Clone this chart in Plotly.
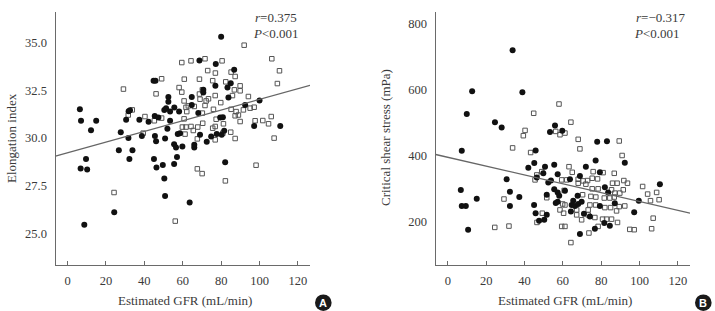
import plotly.graph_objects as go

# ---------------- Panel A data: Estimated GFR vs Elongation index ----------------
a_filled_gfr = [6.4, 7.0, 12.2, 14.9, 9.6, 6.8, 10.2, 8.7, 24.3, 26.7, 27.7, 30.5, 31.8, 32.5, 31.7,
                32.2, 33.8, 37.4, 38.7, 42.2, 44.8, 45.8, 45.4, 47.3, 45.5, 46.1, 45.0, 46.3, 49.6, 50.4,
                50.8, 50.8, 52.0, 52.5, 52.5, 51.3, 50.4, 53.4, 55.6, 58.1, 53.4, 55.5, 56.5, 57.4, 58.6,
                59.8, 57.0, 55.5, 63.6, 64.7, 64.7, 68.1, 66.0, 66.0, 69.0, 72.5, 68.7, 80.0, 77.2, 86.8,
                85.0, 83.3, 77.0, 70.7, 70.7, 83.8, 92.5, 100.0, 79.5, 80.9, 97.2, 110.8, 81.6, 77.7, 74.8,
                82.1, 80.3]
a_filled_ei = [31.5, 30.9, 30.4, 30.9, 28.9, 28.4, 28.35, 25.45, 26.1, 29.35, 30.3, 30.95, 31.4, 31.45, 30.0,
               28.9, 29.35, 30.95, 30.1, 30.85, 33.0, 33.0, 31.15, 31.07, 30.1, 29.83, 28.9, 28.45, 28.58, 27.88,
               26.96, 29.97, 30.48, 32.14, 31.9, 31.56, 31.47, 31.38, 31.6, 31.38, 30.9, 29.67, 29.5, 30.2, 30.25,
               29.55, 29.0, 28.64, 26.61, 32.14, 31.73, 31.3, 29.64, 29.5, 30.16, 29.8, 34.06, 35.3, 33.87, 33.57,
               32.87, 32.64, 32.73, 32.52, 32.38, 32.12, 31.73, 31.96, 31.07, 31.09, 30.63, 30.63, 30.37, 30.2, 30.07,
               28.73, 30.16]

a_open_gfr = [24.2, 56.1, 67.6, 70.1, 82.2, 98.2, 59.5, 64.3, 71.6, 73.0, 49.0, 60.8, 68.7, 29.1, 46.1,
              58.1, 59.5, 60.7, 70.2, 68.7, 72.2, 69.0, 62.9, 66.0, 62.1, 71.6, 33.7, 31.6, 40.3, 45.2,
              49.0, 60.7, 70.2, 59.8, 61.7, 61.2, 67.8, 65.5, 70.4, 67.6, 39.4, 92.0, 106.4, 110.4, 109.3,
              80.5, 77.0, 85.2, 87.3, 75.6, 82.4, 89.9, 86.9, 89.9, 76.9, 85.9, 79.8, 94.2, 76.0, 85.2,
              87.8, 91.6, 95.1, 97.2, 87.3, 89.0, 89.9, 97.7, 101.7, 106.1, 104.7, 77.4, 76.9, 81.2, 75.6,
              80.9, 85.0, 87.3, 76.9, 107.6, 61.7, 73.4, 64.3]
a_open_ei = [27.14, 25.64, 28.38, 28.13, 27.75, 28.57, 33.95, 34.04, 34.15, 33.53, 33.1, 33.08, 33.08, 32.56, 32.31,
             32.64, 32.4, 31.94, 32.52, 32.3, 31.94, 32.03, 31.68, 31.65, 31.38, 31.7, 31.47, 31.2, 31.12, 30.9,
             31.04, 31.0, 31.3, 30.57, 30.57, 30.2, 30.57, 30.39, 30.77, 29.95, 30.25, 34.86, 34.15, 33.52, 32.85,
             34.04, 33.4, 33.45, 33.22, 33.0, 32.94, 32.73, 32.52, 32.47, 32.22, 32.22, 31.85, 32.17, 31.5, 31.5,
             31.38, 31.47, 31.56, 31.61, 31.16, 31.2, 30.86, 30.9, 30.91, 31.12, 30.74, 30.98, 30.6, 30.74, 30.51,
             30.25, 30.3, 29.97, 29.9, 29.99, 31.6, 32.05, 30.6]

a_fit_x = [-6.3, 126.3]
a_fit_y = [29.04, 32.76]

# ---------------- Panel B data: Estimated GFR vs Critical shear stress ----------------
b_filled_gfr = [33.8, 12.7, 38.9, 9.9, 24.6, 28.1, 7.3, 45.8, 6.8, 7.3, 9.4, 10.6, 15.1, 30.7, 32.4,
                32.4, 37.3, 42.0, 45.1, 45.0, 45.8, 47.6, 55.9, 53.3, 59.7, 50.7, 55.5, 49.8, 57.3, 52.4,
                53.8, 46.4, 63.7, 55.5, 57.3, 58.1, 51.6, 61.1, 56.3, 57.3, 64.2, 64.6, 51.6, 50.3, 77.9,
                83.0, 77.1, 92.3, 72.0, 68.9, 79.3, 110.6, 81.9, 83.6, 99.6, 67.7, 65.4, 66.3, 68.0, 69.8,
                79.3, 87.1, 71.0, 74.1, 97.2, 81.6, 84.5, 76.7, 68.9]
b_filled_css = [718, 594, 591, 525, 500, 484, 413, 414, 294, 246, 246, 174, 268, 327, 289,
                246, 273, 362, 376, 249, 224, 201, 490, 470, 474, 365, 371, 345, 342, 317,
                323, 332, 327, 297, 287, 277, 280, 292, 255, 259, 229, 249, 219, 204, 441,
                442, 384, 377, 365, 337, 348, 312, 303, 287, 262, 277, 262, 246, 252, 259,
                246, 254, 222, 214, 227, 194, 186, 177, 161]

b_open_gfr = [44.8, 40.3, 39.4, 33.8, 43.2, 29.3, 24.5, 31.9, 45.5, 58.0, 64.2, 56.3, 58.5, 61.1, 46.4,
              49.0, 63.2, 64.9, 59.4, 62.0, 60.7, 51.6, 59.9, 58.5, 60.4, 49.3, 46.5, 59.4, 61.1, 64.2,
              68.0, 68.9, 89.4, 90.9, 75.8, 81.0, 86.8, 68.0, 70.6, 72.9, 75.3, 78.1, 72.0, 68.0, 85.9,
              88.3, 91.8, 93.7, 101.6, 104.2, 108.9, 110.2, 105.7, 75.3, 78.4, 85.4, 91.5, 87.1, 89.7, 74.6,
              77.2, 81.6, 84.5, 86.8, 70.3, 61.1, 74.1, 77.1, 81.9, 84.9, 89.4, 92.3, 67.2, 73.2, 88.0,
              67.2, 73.2, 76.7, 80.7, 82.8, 85.4, 69.8, 88.5, 78.4, 94.9, 97.2, 107.1, 106.3, 73.6]
b_open_css = [527, 475, 459, 422, 408, 267, 181, 185, 325, 555, 500, 472, 462, 467, 340,
              350, 365, 348, 325, 325, 293, 271, 252, 234, 224, 224, 196, 184, 184, 135,
              448, 419, 443, 399, 350, 347, 345, 327, 322, 323, 330, 328, 312, 315, 315,
              315, 323, 315, 305, 282, 287, 265, 262, 298, 298, 295, 295, 285, 285, 275,
              273, 270, 270, 273, 280, 249, 249, 249, 241, 241, 244, 246, 234, 234, 231,
              219, 219, 211, 206, 206, 206, 204, 196, 184, 175, 174, 209, 177, 164]

b_fit_x = [-6.3, 126.3]
b_fit_y = [402, 224]

x_ticks = [0, 20, 40, 60, 80, 100, 120]
a_y_ticks = [25.0, 27.5, 30.0, 32.5, 35.0]
b_y_ticks = [200, 400, 600, 800]

# ---------------- Styling ----------------
W, H = 715, 311
FONT = "Liberation Serif, Times New Roman, serif"
AX_COL = "#6a6a6a"
TXT_COL = "#3a3a3a"
SQ_COL = "#555555"


def px_x(p):
    return p / W


def px_y(p):
    return 1 - p / H


fig = go.Figure()

# Panel A
fig.add_trace(go.Scatter(x=a_open_gfr, y=a_open_ei, mode="markers", xaxis="x", yaxis="y",
                         marker=dict(symbol="square-open", size=4.5, color=SQ_COL, line=dict(width=1)),
                         showlegend=False))
fig.add_trace(go.Scatter(x=a_filled_gfr, y=a_filled_ei, mode="markers", xaxis="x", yaxis="y",
                         marker=dict(symbol="circle", size=6, color="#111111"), showlegend=False))
fig.add_trace(go.Scatter(x=a_fit_x, y=a_fit_y, mode="lines", xaxis="x", yaxis="y",
                         line=dict(color="#666666", width=1.3), showlegend=False))

# Panel B
fig.add_trace(go.Scatter(x=b_open_gfr, y=b_open_css, mode="markers", xaxis="x2", yaxis="y2",
                         marker=dict(symbol="square-open", size=4.5, color=SQ_COL, line=dict(width=1)),
                         showlegend=False))
fig.add_trace(go.Scatter(x=b_filled_gfr, y=b_filled_css, mode="markers", xaxis="x2", yaxis="y2",
                         marker=dict(symbol="circle", size=6, color="#111111"), showlegend=False))
fig.add_trace(go.Scatter(x=b_fit_x, y=b_fit_y, mode="lines", xaxis="x2", yaxis="y2",
                         line=dict(color="#666666", width=1.3), showlegend=False))

tickfont = dict(family=FONT, size=12.5, color=TXT_COL)
xcommon = dict(range=[-6.3, 126.3], tickvals=x_ticks, ticks="inside", ticklen=4, tickcolor=AX_COL,
               showline=True, linecolor=AX_COL, linewidth=1.2, showgrid=False, zeroline=False,
               tickfont=tickfont, ticklabelstandoff=4)
ycommon = dict(ticks="", showline=True, linecolor=AX_COL, linewidth=1.2, showgrid=False,
               zeroline=False, tickfont=tickfont, ticklabelstandoff=5)

ydom = [px_y(265), px_y(12)]
fig.update_layout(
    width=W, height=H,
    margin=dict(l=0, r=0, t=0, b=0),
    paper_bgcolor="white", plot_bgcolor="white",
    xaxis=dict(domain=[px_x(55.5), px_x(310)], anchor="y", **xcommon),
    yaxis=dict(domain=ydom, anchor="x", range=[23.34, 36.6], tickvals=a_y_ticks,
               tickformat=".1f", **ycommon),
    xaxis2=dict(domain=[px_x(435.7), px_x(690)], anchor="y2", **xcommon),
    yaxis2=dict(domain=ydom, anchor="x2", range=[67, 834], tickvals=b_y_ticks, **ycommon),
)

afont = dict(family=FONT, size=13, color=TXT_COL)
annots = [
    dict(text="Estimated GFR (mL/min)", x=px_x(185), y=px_y(300.5)),
    dict(text="Estimated GFR (mL/min)", x=px_x(565), y=px_y(300.5)),
    dict(text="Elongation index", x=px_x(11), y=px_y(138), textangle=-90),
    dict(text="Critical shear stress (mPa)", x=px_x(385), y=px_y(138), textangle=-90),
    dict(text="<i>r</i>=0.375", x=px_x(253), y=px_y(17.5), xanchor="left"),
    dict(text="<i>P</i><0.001", x=px_x(251), y=px_y(33.5), xanchor="left"),
    dict(text="<i>r</i>=\u22120.317", x=px_x(634), y=px_y(17.5), xanchor="left"),
    dict(text="<i>P</i><0.001", x=px_x(631.7), y=px_y(33.5), xanchor="left"),
]
for a in annots:
    a.setdefault("xanchor", "center")
    fig.add_annotation(xref="paper", yref="paper", yanchor="middle", showarrow=False, font=afont, **a)

# Panel badges
for cx, label in [(323.3, "A"), (703.3, "B")]:
    cy = 302.7
    r = 8.3
    fig.add_shape(type="circle", xref="paper", yref="paper",
                  x0=px_x(cx - r), x1=px_x(cx + r), y0=px_y(cy + r), y1=px_y(cy - r),
                  fillcolor="#1a1a1a", line=dict(width=0))
    fig.add_annotation(xref="paper", yref="paper", x=px_x(cx), y=px_y(cy + 0.5), text="<b>%s</b>" % label,
                       showarrow=False, xanchor="center", yanchor="middle",
                       font=dict(family="Liberation Sans, Arial, sans-serif", size=11, color="white"))

fig.write_html("out.html")
